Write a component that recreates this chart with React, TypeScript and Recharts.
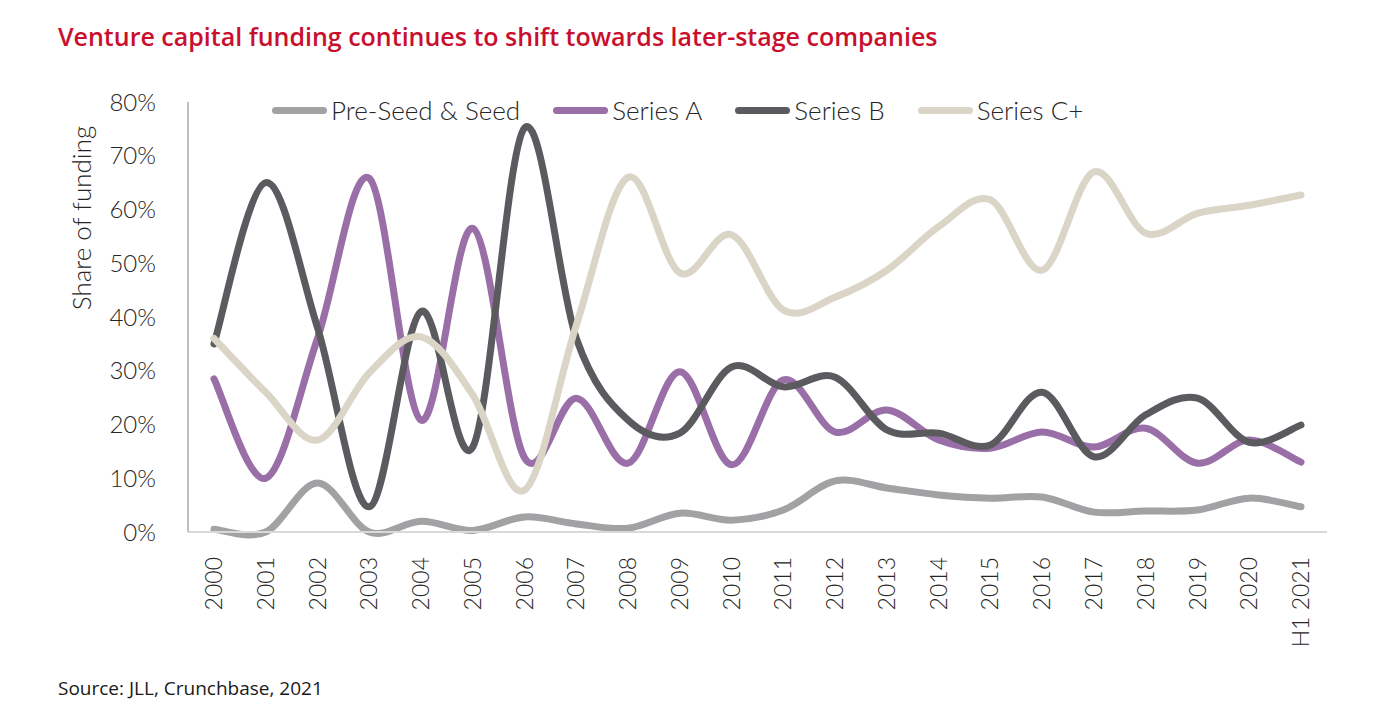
import React from "react";
import { LineChart, Line, XAxis, YAxis, Legend } from "recharts";

const years = [
  "2000", "2001", "2002", "2003", "2004", "2005", "2006", "2007", "2008", "2009", "2010",
  "2011", "2012", "2013", "2014", "2015", "2016", "2017", "2018", "2019", "2020", "H1 2021",
];

const preSeed = [0.5, 0, 9.1, 0, 2, 0.3, 2.8, 1.5, 0.7, 3.5, 2.2, 4.1, 9.5, 8.2, 6.9, 6.3, 6.5, 3.7, 3.9, 4.1, 6.3, 4.7];
const seriesA = [28.5, 10, 36, 65.8, 20.8, 56.5, 13.8, 24.9, 12.8, 29.8, 12.5, 28.3, 18.6, 22.7, 17.1, 15.6, 18.6, 15.8, 19.3, 12.8, 17.1, 13];
const seriesB = [35, 65, 38, 4.7, 41, 15.8, 75.2, 36, 20.8, 18.4, 30.7, 27, 28.8, 19, 18.4, 16.2, 26, 14, 21.8, 24.9, 16.7, 19.9];
const seriesC = [36, 26, 17.1, 29.6, 36.3, 25.5, 7.8, 38.5, 66, 48.2, 55.3, 41.3, 43.7, 48.7, 56.8, 61.8, 48.7, 67, 55.6, 59.3, 60.8, 62.7];

const yTicks = [0, 10, 20, 30, 40, 50, 60, 70, 80];

const series = [
  { key: "preSeed", name: "Pre-Seed & Seed", color: "#a2a2a5" },
  { key: "seriesA", name: "Series A", color: "#9a6ea7" },
  { key: "seriesB", name: "Series B", color: "#5b5b5f" },
  { key: "seriesC", name: "Series C+", color: "#dbd5c8" },
];

const data = years.map((y, i) => ({
  year: y,
  preSeed: preSeed[i],
  seriesA: seriesA[i],
  seriesB: seriesB[i],
  seriesC: seriesC[i],
}));

const FONT = "Lato, 'Noto Sans', sans-serif";

// excel-like smoothing (catmull-rom through the points)
function smoothCurve(context: any) {
  let pts: number[][] = [];
  return {
    areaStart() {},
    areaEnd() {},
    lineStart() {
      pts = [];
    },
    lineEnd() {
      if (!pts.length) return;
      context.moveTo(pts[0][0], pts[0][1]);
      for (let i = 0; i < pts.length - 1; i++) {
        const p0 = pts[i - 1] || pts[i];
        const p1 = pts[i];
        const p2 = pts[i + 1];
        const p3 = pts[i + 2] || p2;
        context.bezierCurveTo(
          p1[0] + (p2[0] - p0[0]) / 6,
          p1[1] + (p2[1] - p0[1]) / 6,
          p2[0] - (p3[0] - p1[0]) / 6,
          p2[1] - (p3[1] - p1[1]) / 6,
          p2[0],
          p2[1]
        );
      }
    },
    point(x: number, y: number) {
      pts.push([x, y]);
    },
  };
}

const XTick = ({ x, y, payload }: any) => (
  <g transform={`translate(${x},${y + 17}) rotate(-90)`}>
    <text textAnchor="end" dy="0.35em" fontSize={23} fontFamily={FONT} fontWeight={300} fill="#262626">
      {payload.value}
    </text>
  </g>
);

const YTick = ({ x, y, payload }: any) => (
  <text x={x - 24} y={y} dy="0.36em" textAnchor="end" fontSize={24} fontFamily={FONT} fontWeight={300} fill="#262626">
    {payload.value}%
  </text>
);

const renderLegend = () => (
  <div style={{ display: "flex", alignItems: "center", fontFamily: FONT, fontWeight: 300, fontSize: 26, color: "#262626", whiteSpace: "nowrap" }}>
    {series.map((s) => (
      <div key={s.key} style={{ display: "flex", alignItems: "center", marginRight: 33 }}>
        <div style={{ width: 55, height: 7, borderRadius: 4, background: s.color, marginRight: 4 }} />
        <span>{s.name}</span>
      </div>
    ))}
  </div>
);

export default function App() {
  return (
    <div style={{ position: "relative", width: 1372, height: 707, background: "#fff" }}>
      <div
        style={{
          position: "absolute",
          left: 50,
          top: 13,
          fontFamily: "'Open Sans', sans-serif",
          fontWeight: 600,
          fontSize: 25,
          lineHeight: "30px",
          color: "#c8102e",
          whiteSpace: "nowrap",
        }}
      >
        Venture capital funding continues to shift towards later-stage companies
      </div>
      <div
        style={{
          position: "absolute",
          left: 73,
          top: 210,
          transform: "translate(-50%, -50%) rotate(-90deg)",
          fontFamily: FONT,
          fontWeight: 300,
          fontSize: 26,
          color: "#262626",
          whiteSpace: "nowrap",
        }}
      >
        Share of funding
      </div>
      <LineChart width={1372} height={700} data={data} margin={{ top: 94, right: 53, left: 0, bottom: 56 }}>
        <XAxis
          dataKey="year"
          height={120}
          interval={0}
          padding={{ left: 26, right: 26 }}
          tickLine={false}
          tick={<XTick />}
          axisLine={{ stroke: "#d9d9d9", strokeWidth: 2 }}
        />
        <YAxis
          width={180}
          domain={[0, 80]}
          ticks={yTicks}
          tickLine={false}
          tick={<YTick />}
          axisLine={{ stroke: "#bfbfbf", strokeWidth: 2 }}
        />
        <Legend
          verticalAlign="middle"
          align="center"
          content={renderLegend}
          wrapperStyle={{ position: "absolute", top: 86, left: 264, width: "auto" }}
        />
        {series.map((s) => (
          <Line
            key={s.key}
            dataKey={s.key}
            name={s.name}
            type={smoothCurve as any}
            stroke={s.color}
            strokeWidth={7}
            strokeLinecap="round"
            dot={false}
            activeDot={false}
            isAnimationActive={false}
          />
        ))}
      </LineChart>
      <div
        style={{
          position: "absolute",
          left: 50,
          top: 667,
          fontFamily: "'Open Sans', sans-serif",
          fontSize: 19,
          color: "#1a1a1a",
          whiteSpace: "nowrap",
        }}
      >
        Source: JLL, Crunchbase, 2021
      </div>
    </div>
  );
}
